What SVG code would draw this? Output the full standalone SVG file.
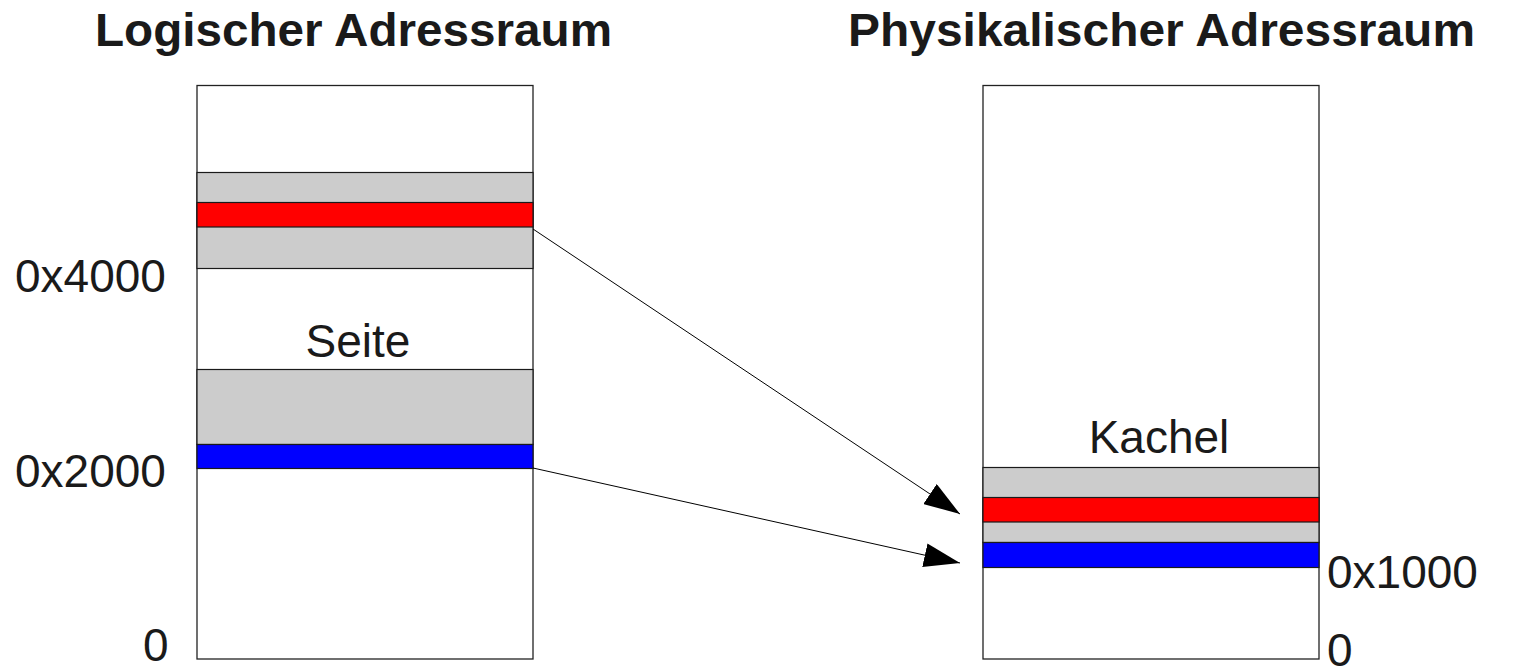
<svg xmlns="http://www.w3.org/2000/svg" width="1513" height="671" viewBox="0 0 1513 671">
<style>
  .box { fill: #ffffff; stroke: #222222; stroke-width: 1.3; }
  .gray { fill: #cccccc; stroke: #1a1a1a; stroke-width: 1.2; }
  .red { fill: #ff0000; stroke: #1a1a1a; stroke-width: 1.2; }
  .blue { fill: #0000ff; stroke: #1a1a1a; stroke-width: 1.2; }
  .title { font-family: "Liberation Sans", Arial, sans-serif; font-weight: bold; font-size: 47px; fill: #1a1a1a; }
  .lbl { font-family: "Liberation Sans", Arial, sans-serif; font-size: 46px; fill: #1a1a1a; }
  .conn { stroke: #000000; stroke-width: 1; fill: none; marker-end: url(#arrow); }
</style>
<defs>
  <marker id="arrow" markerUnits="userSpaceOnUse" markerWidth="36" markerHeight="24" refX="36" refY="12" orient="auto">
    <path d="M0,0 L36,12 L0,24 z" fill="#000000"/>
  </marker>
</defs>
<rect width="1513" height="671" fill="#ffffff"/>
<g id="title-left"><text class="title" x="95" y="46" textLength="517" lengthAdjust="spacingAndGlyphs">Logischer Adressraum</text></g>
<g id="title-right"><text class="title" x="848" y="46" textLength="627" lengthAdjust="spacingAndGlyphs">Physikalischer Adressraum</text></g>
<g id="logical-space">
  <rect class="box" x="197" y="85.5" width="336" height="573.5"/>
  <rect class="gray" x="197" y="172.5" width="336" height="96"/>
  <rect class="red" x="197" y="202.5" width="336" height="24.5"/>
  <rect class="gray" x="197" y="369.5" width="336" height="75"/>
  <rect class="blue" x="197" y="444.5" width="336" height="24"/>
  <text class="lbl" x="358" y="357" text-anchor="middle">Seite</text>
</g>
<g id="physical-space">
  <rect class="box" x="983" y="85.5" width="336" height="573.5"/>
  <rect class="gray" x="983" y="467.5" width="336" height="75"/>
  <rect class="red" x="983" y="497.5" width="336" height="24.5"/>
  <rect class="blue" x="983" y="542.5" width="336" height="25"/>
  <text class="lbl" x="1159" y="453" text-anchor="middle">Kachel</text>
</g>
<g id="labels">
  <text class="lbl" x="15" y="292">0x4000</text>
  <text class="lbl" x="15" y="487">0x2000</text>
  <text class="lbl" x="143" y="661">0</text>
  <text class="lbl" x="1327" y="588">0x1000</text>
  <text class="lbl" x="1327" y="666">0</text>
</g>
<g id="connectors">
  <line class="conn" x1="533" y1="229" x2="960" y2="514"/>
  <line class="conn" x1="533" y1="468" x2="960" y2="563"/>
</g>
</svg>
